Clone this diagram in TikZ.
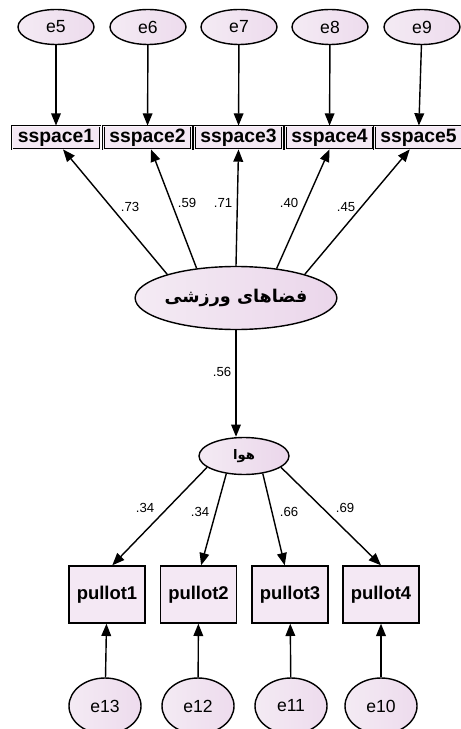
\documentclass[tikz,border=0pt]{standalone}
\usepackage{fontspec}
\setmainfont{Liberation Sans}
\newfontfamily\arabicfont[Script=Arabic]{DejaVu Sans}
\TeXXeTstate=1
\usetikzlibrary{arrows.meta, shapes.geometric}

\begin{document}
\begin{tikzpicture}[x=0.02cm, y=-0.02cm, line width=0.8pt,
    err/.style={ellipse, draw, minimum width=76*0.02cm, minimum height=35*0.02cm, inner sep=0pt,
        left color=black!10!violet!8, right color=violet!14, font=\fontsize{10}{12}\selectfont},
    err2/.style={err, minimum width=72*0.02cm, minimum height=56*0.02cm},
    obs/.style={draw, fill=violet!9, minimum width=88*0.02cm, minimum height=23*0.02cm, inner sep=0pt,
        line width=0.45pt, double=violet!4, double distance=0.5pt, font=\bfseries\fontsize{11}{13}\selectfont},
    obs2/.style={draw, fill=violet!9, minimum width=76*0.02cm, minimum height=57*0.02cm, inner sep=0pt,
        font=\bfseries\fontsize{10.5}{12}\selectfont},
    lat/.style={ellipse, draw, inner sep=0pt, left color=black!10!violet!8, right color=violet!16},
    lbl/.style={font=\fontsize{7.5}{9}\selectfont},
    arr/.style={-{Triangle[length=7pt, width=5.5pt]}}]
    \useasboundingbox (0,0) rectangle (460,729);
    % error terms on top
    \node[err] (e5) at (56,27) {e5};
    \node[err] (e6) at (148,27) {e6};
    \node[err] (e7) at (239,27) {e7};
    \node[err] (e8) at (330,27) {e8};
    \node[err] (e9) at (422,27) {e9};
    % indicators
    \node[obs] (s1) at (56,137.5) {sspace1};
    \node[obs] (s2) at (147.5,137.5) {sspace2};
    \node[obs] (s3) at (238.5,137.5) {sspace3};
    \node[obs] (s4) at (329.5,137.5) {sspace4};
    \node[obs] (s5) at (418.5,137.5) {sspace5};
    \draw[arr] (e5) -- (s1); \draw[arr] (e6) -- (s2); \draw[arr] (e7) -- (s3);
    \draw[arr] (e8) -- (s4); \draw[arr] (e9) -- (s5);
    % latent factors
    \node[lat, minimum width=148*0.02cm, minimum height=63*0.02cm] (sport) at (236,298)
        {\arabicfont\bfseries\fontsize{10}{12}\selectfont\beginR فضاهای ورزشی\endR};
    \node[lat, minimum width=90*0.02cm, minimum height=37*0.02cm] (hava) at (244,456)
        {\arabicfont\bfseries\fontsize{7.5}{9}\selectfont\beginR هوا\endR};
    \draw[arr] (sport.161) -- ([xshift=4]s1.south); \draw[arr] (sport.143) -- ([xshift=2]s2.south);
    \draw[arr] (sport.90) -- (s3.south); \draw[arr] (sport.36) -- (s4.south);
    \draw[arr] (sport.19) -- ([xshift=-5]s5.south);
    \draw[arr] (sport.south) -- (sport.south |- hava.north);
    \node[lbl] (l1) at (130,207) {.73}; \node[lbl] (l2) at (187,203) {.59};
    \node[lbl] (l3) at (223,203) {.71}; \node[lbl] (l4) at (289,203) {.40};
    \node[lbl] (l5) at (346,207) {.45}; \node[lbl] (l6) at (222,372) {.56};
    % pullot indicators
    \node[obs2] (p1) at (107,594.5) {pullot1};
    \node[obs2] (p2) at (198.5,594.5) {pullot2};
    \node[obs2] (p3) at (290,594.5) {pullot3};
    \node[obs2] (p4) at (381,594.5) {pullot4};
    \draw[arr] (hava.197) -- ([xshift=3]p1.north); \draw[arr] (hava.225) -- ([xshift=1.5]p2.north);
    \draw[arr] (hava.317) -- ([xshift=-3]p3.north); \draw[arr] (hava.343) -- (p4.north);
    \node[lbl] (l7) at (145,508) {.34}; \node[lbl] (l8) at (200,512) {.34};
    \node[lbl] (l9) at (289,512) {.66}; \node[lbl] (l10) at (345,508) {.69};
    % error terms at the bottom
    \node[err2] (e13) at (105,706) {e13};
    \node[err2] (e12) at (198,706) {e12};
    \node[err2] (e11) at (291,706) {e11};
    \node[err2] (e10) at (381,706) {e10};
    \draw[arr] (e13) -- (p1); \draw[arr] (e12) -- (p2);
    \draw[arr] (e11) -- (p3); \draw[arr] (e10) -- (p4);
\end{tikzpicture}
\end{document}
